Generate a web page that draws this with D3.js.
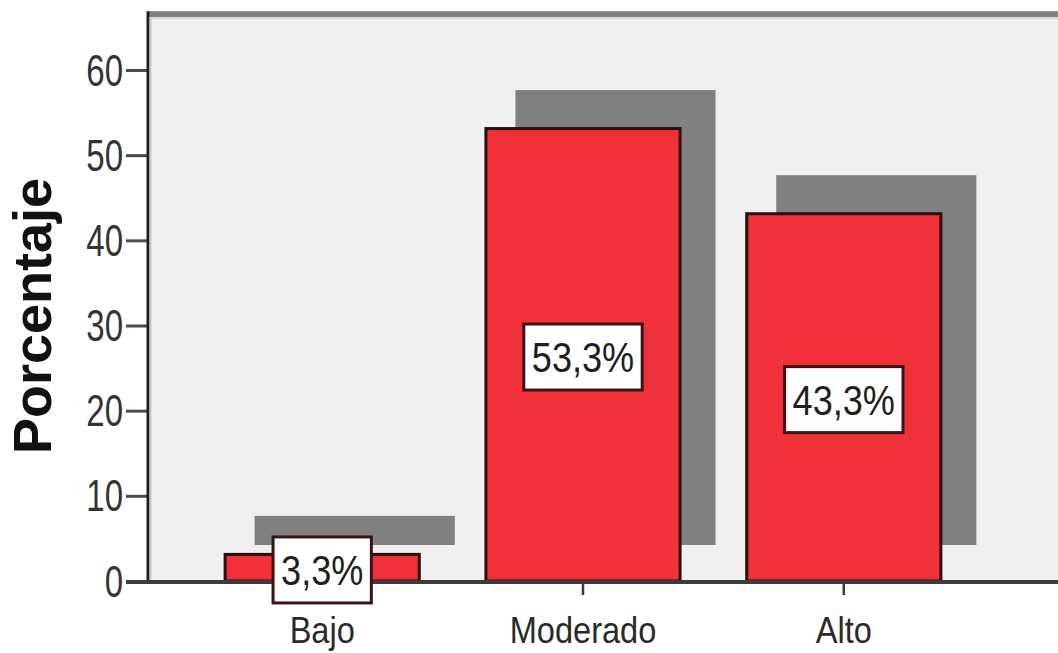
<!DOCTYPE html>
<html>
<head>
<meta charset="utf-8">
<script src="https://cdn.jsdelivr.net/npm/d3@7"></script>
<style>
html,body{margin:0;padding:0;background:#fff;}
svg{display:block;}
text{font-family:"Liberation Sans",Arial,sans-serif;}
</style>
</head>
<body>
<svg id="chart" width="1058" height="653"></svg>
<script>
const categories = ["Bajo", "Moderado", "Alto"];
const values = [3.3, 53.3, 43.3];
const labels = ["3,3%", "53,3%", "43,3%"];
const yTicks = [0, 10, 20, 30, 40, 50, 60];
const yTitle = "Porcentaje";

const svg = d3.select("#chart");
const W = 1058, H = 653;
const left = 148, bottom = 581;

const y = d3.scaleLinear().domain([0, 60]).range([bottom, 70]);
const x = d3.scaleBand().domain(categories).range([148, 1018])
  .paddingInner(0.244).paddingOuter(0.29);

const topY = y(66.2);

// plot background
svg.append("rect").attr("x", left).attr("y", topY).attr("width", W - left + 20)
  .attr("height", bottom - topY).attr("fill", "#f0f0f0");
// top border
svg.append("rect").attr("x", left).attr("y", topY - 6).attr("width", W - left + 20)
  .attr("height", 6).attr("fill", "#808080");
svg.append("rect").attr("x", left + 2).attr("y", topY).attr("width", W - left + 20)
  .attr("height", 2).attr("fill", "#dcdcdc");

// shadows
const shTop = 37, shBottom = y(0) - 36;
svg.append("g").selectAll("rect").data(categories).join("rect")
  .attr("x", d => x(d) + 31)
  .attr("y", (d, i) => y(values[i]) - shTop)
  .attr("width", x.bandwidth() + 3)
  .attr("height", (d, i) => shBottom - (y(values[i]) - shTop))
  .attr("fill", "#808080");

// bars
svg.append("g").selectAll("rect").data(categories).join("rect")
  .attr("x", d => x(d) + 1.5)
  .attr("y", (d, i) => y(values[i]) + 1.5)
  .attr("width", x.bandwidth() - 3)
  .attr("height", (d, i) => y(0) - y(values[i]) - 1.5)
  .attr("fill", "#f0313a")
  .attr("stroke", "#2a0d0d")
  .attr("stroke-width", 3);

// y axis
const yAxis = svg.append("g").attr("transform", `translate(${left},0)`)
  .call(d3.axisLeft(y).tickValues(yTicks).tickSize(22).tickPadding(0).tickFormat(d3.format("d")));
yAxis.select(".domain").remove();
yAxis.selectAll(".tick line").attr("stroke", "#4a4a4a").attr("stroke-width", 3);
yAxis.selectAll(".tick text").remove();
yAxis.selectAll(".tick").append("text")
  .attr("transform", "translate(-25,15) scale(0.75,1)")
  .attr("text-anchor", "end")
  .attr("font-size", 44)
  .attr("fill", "#333")
  .text(d => d);
// left axis line
svg.append("line").attr("x1", left).attr("x2", left).attr("y1", topY - 6).attr("y2", bottom)
  .attr("stroke", "#1e1e1e").attr("stroke-width", 3);
svg.append("line").attr("x1", left + 2.5).attr("x2", left + 2.5).attr("y1", topY).attr("y2", bottom)
  .attr("stroke", "#c8c8c8").attr("stroke-width", 2);

// x axis
const xAxis = svg.append("g").attr("transform", `translate(0,${bottom})`)
  .call(d3.axisBottom(x).tickSize(14).tickPadding(0));
xAxis.select(".domain").remove();
xAxis.selectAll(".tick line").attr("stroke", "#3a3a3a").attr("stroke-width", 2.5);
xAxis.selectAll(".tick text").remove();
xAxis.selectAll(".tick").append("text")
  .attr("transform", "translate(0,62) scale(0.88,1)")
  .attr("text-anchor", "middle")
  .attr("font-size", 37)
  .attr("fill", "#2a2a2a")
  .text(d => d);
svg.append("line").attr("x1", 126).attr("x2", W + 10).attr("y1", bottom + 1).attr("y2", bottom + 1)
  .attr("stroke", "#3c3c3c").attr("stroke-width", 4);

// value label boxes
const lab = svg.append("g").selectAll("g").data(categories).join("g")
  .attr("transform", (d, i) => `translate(${x(d) + x.bandwidth() / 2},${(y(values[i]) + y(0)) / 2 + 3})`);
lab.each(function(d, i) {
  const g = d3.select(this);
  const fs = 42, sx = 0.86;
  const t = g.append("text")
    .attr("transform", `scale(${sx},1)`)
    .attr("text-anchor", "middle")
    .attr("dy", "0.36em")
    .attr("font-size", fs)
    .attr("fill", "#1e1e1e")
    .text(labels[i]);
  const w = t.node().getComputedTextLength() * sx + 16;
  g.insert("rect", "text")
    .attr("x", -w / 2).attr("y", -33).attr("width", w).attr("height", 66)
    .attr("fill", "#ffffff").attr("stroke", "#3a1414").attr("stroke-width", 3);
});

// y title
svg.append("text")
  .attr("transform", `translate(51,${316}) rotate(-90)`)
  .attr("text-anchor", "middle")
  .attr("font-size", 54)
  .attr("font-weight", "bold")
  .attr("fill", "#111")
  .text(yTitle);
</script>
</body>
</html>
